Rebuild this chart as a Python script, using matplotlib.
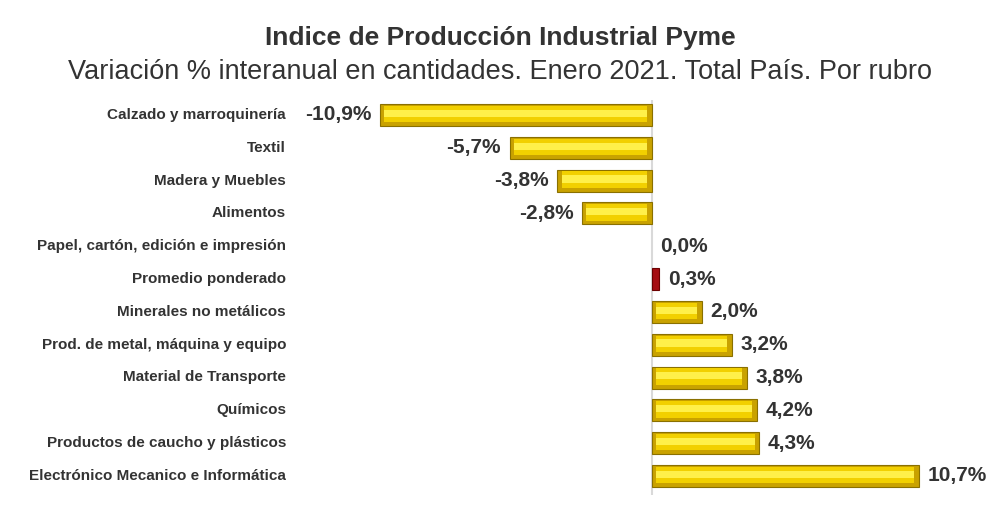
import matplotlib
matplotlib.use("Agg")
from matplotlib import pyplot as plt

plt.rcParams["font.family"] = "Liberation Sans"

rubros = [
    "Calzado y marroquinería", "Textil", "Madera y Muebles", "Alimentos",
    "Papel, cartón, edición e impresión", "Promedio ponderado",
    "Minerales no metálicos", "Prod. de metal, máquina y equipo",
    "Material de Transporte", "Químicos", "Productos de caucho y plásticos",
    "Electrónico Mecanico e Informática",
]
variacion = [-10.9, -5.7, -3.8, -2.8, 0.0, 0.3, 2.0, 3.2, 3.8, 4.2, 4.3, 10.7]

W, H = 1000, 511
fig = plt.figure(figsize=(W / 100, H / 100), dpi=100)
ax = fig.add_axes([290 / W, 1 - 495 / H, 710 / W, 395 / H])
ax.set_xlim(-14.5, 13.95)
ax.set_ylim(11.58, -0.457)
ax.axis("off")

ax.axvline(0, color="#d9d9d9", lw=1.5, zorder=0)

for i, (name, v) in enumerate(zip(rubros, variacion)):
    if name == "Promedio ponderado":
        ax.barh(i, v, height=0.67, color="#a50d12", edgecolor="#6b0000", lw=0.8)
    elif v != 0:
        ax.barh(i, v, height=0.67, color="#c9a200", edgecolor="#8a7000", lw=0.8)
        inset = 0.18 * (1 if v > 0 else -1)
        ax.barh(i - 0.03, v - 2 * inset, left=inset, height=0.5,
                color="#f2d000", lw=0)
        ax.barh(i - 0.05, v - 2 * inset, left=inset, height=0.22,
                color="#fff04a", lw=0)
    lab = f"{v:.1f}%".replace(".", ",")
    if v < 0:
        ax.text(v - 0.35, i, lab, ha="right", va="center", fontsize=15,
                fontweight="bold", color="#333333")
    else:
        ax.text(v + 0.35, i, lab, ha="left", va="center", fontsize=15,
                fontweight="bold", color="#333333")
    fig.text(286 / W, 1 - (115 + i * 32.8) / H, name, ha="right", va="center",
             fontsize=11, fontweight="bold", color="#333333")

fig.text(0.5, 1 - 38 / H, "Indice de Producción Industrial Pyme", ha="center",
         va="center", fontsize=19, fontweight="bold", color="#333333")
fig.text(0.5, 1 - 72 / H,
         "Variación % interanual en cantidades. Enero 2021. Total País. Por rubro",
         ha="center", va="center", fontsize=19.5, color="#333333")

fig.savefig("out.png", dpi=100)
